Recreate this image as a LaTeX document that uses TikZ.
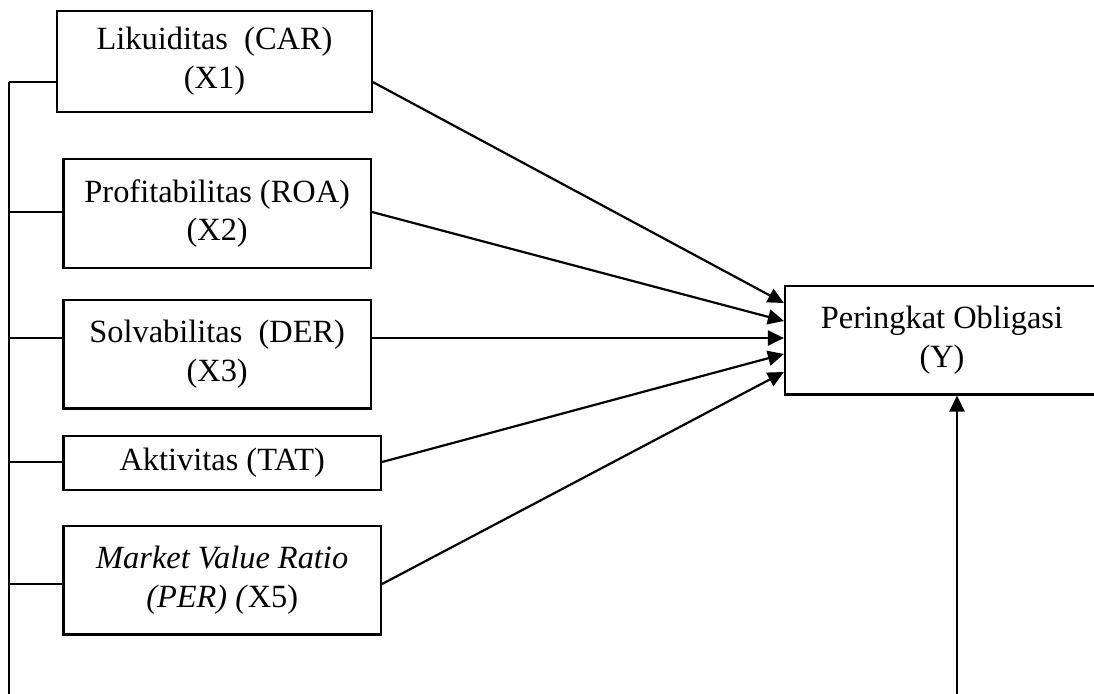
\documentclass[tikz,border=0pt]{standalone}
\usepackage{fontspec}
\setmainfont{Liberation Serif}
\usetikzlibrary{arrows.meta}
\begin{document}
\begin{tikzpicture}[x=0.5pt,y=-0.5pt,
  box/.style={draw,line width=1.1pt,inner sep=0pt,align=center,
    font=\fontsize{16.2}{19.3}\selectfont},
  conn/.style={line width=1.1pt},
  arr/.style={line width=1.1pt,-{Triangle[length=8pt,width=7.5pt]}}]
\useasboundingbox (0,0) rectangle (1094,693);
\clip (0,0) rectangle (1094,693);
\node[box,minimum width=157.2pt,minimum height=50.5pt] (X1) at (214.5,61.2) {Likuiditas~ (CAR)\\(X1)};
\node[box,minimum width=153.8pt,minimum height=54.2pt] (X2) at (217.2,213.5) {Profitabilitas (ROA)\\(X2)};
\node[box,minimum width=153.8pt,minimum height=54.2pt] (X3) at (217.2,354.2) {Solvabilitas~ (DER)\\(X3)};
\node[box,minimum width=158.8pt,minimum height=27.2pt] (X4) at (222.2,462.9) {Aktivitas (TAT)};
\node[box,minimum width=158.8pt,minimum height=54.2pt] (X5) at (222.2,580.2) {\textit{Market Value Ratio}\\\textit{(PER) (}X5)};
\node[box,minimum width=157pt,minimum height=54.2pt] (Y) at (942,340.2) {Peringkat Obligasi\\(Y)};
% bus levels
\coordinate (b1) at (9,82);
\coordinate (b2) at (9,212);
\coordinate (b3) at (9,338);
\coordinate (b4) at (9,462);
\coordinate (b5) at (9,584);
\coordinate (bl) at (9,700);
\coordinate (br) at (957,700);
% target levels
\coordinate (t1) at (0,303);
\coordinate (t2) at (0,321);
\coordinate (t3) at (0,338);
\coordinate (t4) at (0,354);
\coordinate (t5) at (0,372);
\draw[conn] (b1) -- (bl);
\draw[conn] (b1) -- (b1 -| X1.west);
\draw[conn] (b2) -- (b2 -| X2.west);
\draw[conn] (b3) -- (b3 -| X3.west);
\draw[conn] (b4) -- (b4 -| X4.west);
\draw[conn] (b5) -- (b5 -| X5.west);
\draw[arr] (b1 -| X1.east) -- (Y.west |- t1);
\draw[arr] (b2 -| X2.east) -- (Y.west |- t2);
\draw[arr] (b3 -| X3.east) -- (Y.west |- t3);
\draw[arr] (b4 -| X4.east) -- (Y.west |- t4);
\draw[arr] (b5 -| X5.east) -- (Y.west |- t5);
\draw[arr] (br) -- (br |- Y.south);
\end{tikzpicture}
\end{document}
